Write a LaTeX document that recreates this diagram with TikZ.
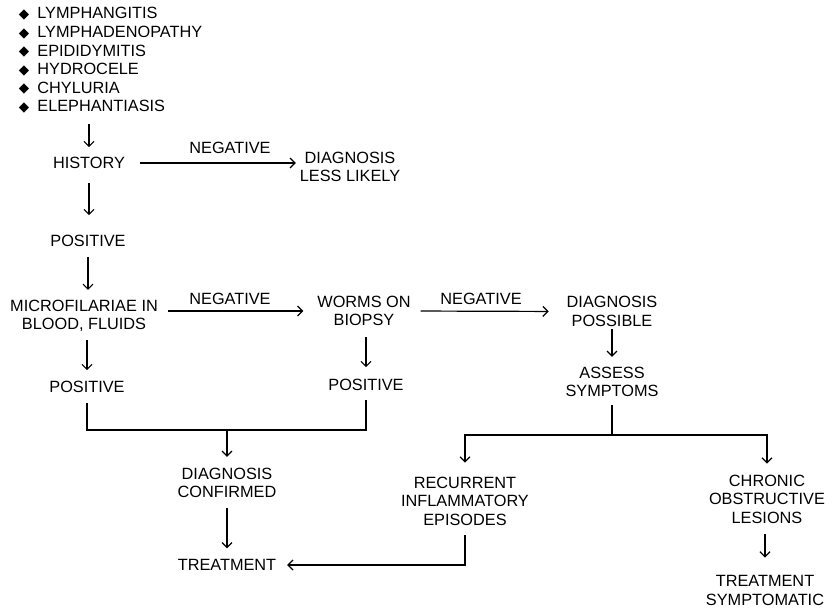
\documentclass[tikz,border=0pt]{standalone}
\usepackage{fontspec}
\setmainfont{Liberation Sans}
\newfontfamily\symfont{DejaVu Sans}
\usetikzlibrary{arrows.meta}
\newcommand\dbul{{\symfont\fontsize{13.5}{13.5}\selectfont\raisebox{0.3pt}{◆}}\hspace{8pt}}
\begin{document}
\begin{tikzpicture}[x=1pt,y=-1pt,
  lbl/.style={inner sep=0pt, outer sep=0pt, align=center, font=\fontsize{16.3}{18.6}\selectfont},
  conn/.style={line width=1.2pt, black},
  arr/.style={conn, -{Straight Barb[length=5pt,width=10pt,line width=1.2pt]}},
]
\useasboundingbox (0,0) rectangle (835,615);

\node[lbl, align=left, anchor=north west] (symptoms) at (19,7.5)
  {\dbul LYMPHANGITIS\\\dbul LYMPHADENOPATHY\\\dbul EPIDIDYMITIS\\\dbul HYDROCELE\\\dbul CHYLURIA\\\dbul ELEPHANTIASIS};

\node[lbl] (history) at (89,163) {HISTORY};
\node[lbl] (less) at (350,167) {DIAGNOSIS\\LESS LIKELY};
\node[lbl] (neg1) at (230,148) {NEGATIVE};
\node[lbl] (pos1) at (88,241) {POSITIVE};
\node[lbl] (micro) at (84,316) {MICROFILARIAE IN\\BLOOD, FLUIDS};
\node[lbl] (worms) at (364,311) {WORMS ON\\BIOPSY};
\node[lbl] (possible) at (612,311.5) {DIAGNOSIS\\POSSIBLE};
\node[lbl] (neg2) at (230,299) {NEGATIVE};
\node[lbl] (neg3) at (481,299) {NEGATIVE};
\node[lbl] (assess) at (612,382) {ASSESS\\SYMPTOMS};
\node[lbl] (pos2) at (87,387) {POSITIVE};
\node[lbl] (pos3) at (366,385) {POSITIVE};
\node[lbl] (confirmed) at (227,483) {DIAGNOSIS\\CONFIRMED};
\node[lbl] (treatment) at (227,565) {TREATMENT};
\node[lbl] (recurrent) at (465,501) {RECURRENT\\INFLAMMATORY\\EPISODES};
\node[lbl] (chronic) at (767,499) {CHRONIC\\OBSTRUCTIVE\\LESIONS};
\node[lbl] (symptomatic) at (765,590.5) {TREATMENT\\SYMPTOMATIC};

\coordinate (join) at (227,430);
\coordinate (split) at (612,435);

\draw[arr, shorten <=11pt, shorten >=10pt] (symptoms.south -| history.north) -- (history.north);
\draw[arr, shorten <=15pt, shorten >=4pt] (history.east) -- (history.east -| less.west);
\draw[arr, shorten <=14pt, shorten >=20pt] (history.south) -- (history.south |- pos1.north);
\draw[arr, shorten <=10pt, shorten >=10pt] (pos1.south) -- (pos1.south |- micro.north);
\draw[arr, shorten <=10pt, shorten >=14pt] (micro.east |- worms.west) -- (worms.west);
\draw[arr, shorten <=10pt, shorten >=18pt] (worms.east) -- (possible.west);
\draw[arr, shorten <=2pt, shorten >=10pt] (possible.south) -- (assess.north);
\draw[conn, shorten <=8pt] (assess.south) -- (split);
\draw[arr, shorten >=14pt] (split) -| (recurrent.north);
\draw[arr, shorten >=11pt] (split) -| (chronic.north);
\draw[arr, shorten <=8pt, shorten >=11pt] (pos2.north |- micro.south) -- (pos2.north);
\draw[arr, shorten <=11pt, shorten >=12pt] (pos3.north |- worms.south) -- (pos3.north);
\draw[conn, shorten <=10pt, shorten >=9pt] (pos2.south) |- (pos3.south |- join) -- (pos3.south);
\draw[arr, shorten >=11pt] (join) -- (confirmed.north);
\draw[arr, shorten <=10pt, shorten >=11pt] (confirmed.south) -- (treatment.north);
\draw[arr, shorten <=10pt, shorten >=11pt] (recurrent.south) |- (treatment.east);
\draw[arr, shorten <=11pt, shorten >=18pt] (chronic.south -| symptomatic.north) -- (symptomatic.north);
\end{tikzpicture}
\end{document}
